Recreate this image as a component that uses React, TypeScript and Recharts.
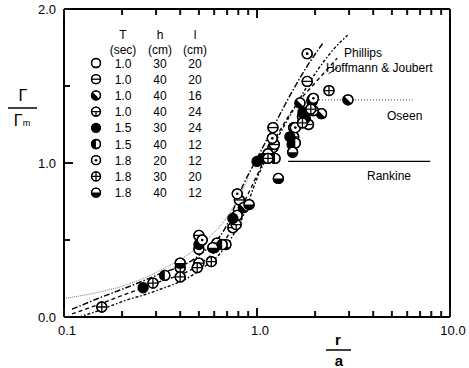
import React from "react";
import {
  ComposedChart,
  Line,
  Scatter,
  XAxis,
  YAxis,
  ReferenceLine,
} from "recharts";

// r/a ticks and Γ/Γm ticks
const xTicks = [0.1, 0.2, 0.3, 0.4, 0.5, 0.6, 0.7, 0.8, 0.9, 1, 2, 3, 4, 5, 6, 7, 8, 9, 10];
const xMajor: Record<string, string> = { "0.1": "0.1", "1": "1.0", "10": "10.0" };
const yTicks = [0, 0.5, 1, 1.5, 2];
const yMajor: Record<string, string> = { "0": "0.0", "1": "1.0", "2": "2.0" };

// theory curves (r, value)
const lineAR = [0.11, 0.15, 0.2, 0.3, 0.5, 0.7, 0.85, 1.0, 1.2, 1.5, 1.8, 2.2];
const lineAV = [0.05, 0.12, 0.18, 0.27, 0.4, 0.6, 0.86, 1.03, 1.22, 1.45, 1.62, 1.78];
const lineBR = [0.11, 0.15, 0.2, 0.3, 0.5, 0.7, 0.9, 1.0, 1.3, 1.6, 2.0, 2.6];
const lineBV = [0.02, 0.08, 0.14, 0.22, 0.34, 0.52, 0.8, 0.92, 1.2, 1.38, 1.52, 1.68];
const lineCR = [0.12, 0.15, 0.2, 0.3, 0.5, 0.7, 0.85, 1.0, 1.3, 1.6, 2.0, 2.5, 2.95];
const lineCV = [0.0, 0.04, 0.1, 0.17, 0.3, 0.47, 0.66, 0.9, 1.18, 1.38, 1.58, 1.74, 1.83];
const lineDR = [0.1, 0.15, 0.2, 0.3, 0.5, 0.7, 0.9];
const lineDV = [0.12, 0.16, 0.2, 0.29, 0.46, 0.65, 0.9];
const oseenR = [1.95, 6.4];
const oseenV = [1.41, 1.41];
const rankineR = [1.45, 7.9];
const rankineV = [1.01, 1.01];

// legend rows
const legendT = ["1.0", "1.0", "1.0", "1.0", "1.5", "1.5", "1.8", "1.8", "1.8"];
const legendH = ["30", "40", "40", "40", "30", "40", "20", "30", "40"];
const legendL = ["20", "20", "16", "24", "24", "12", "12", "20", "12"];
const kinds = ["open", "minus", "diag", "minusVert", "filled", "leftHalf", "dot", "plus", "bottomHalf"];

// measurements per run: [r, value]
const runOpen = [[0.5, 0.44], [0.79, 0.66], [1.21, 1.1], [1.55, 1.23], [0.6, 0.45]];
const runMinus = [[0.5, 0.53], [0.62, 0.48], [0.5, 0.35], [0.81, 0.76], [0.75, 0.58], [1.21, 1.23], [1.23, 1.12], [1.82, 1.53], [1.93, 1.4], [1.72, 1.3], [1.85, 1.25]];
const runDiag = [[2.96, 1.41], [0.85, 0.71], [1.67, 1.39], [2.16, 1.32], [0.69, 0.47]];
const runMinusVert = [[0.4, 0.32], [0.78, 0.6], [1.14, 1.06], [1.55, 1.17], [1.96, 1.34]];
const runFilled = [[0.257, 0.19], [0.5, 0.47], [0.75, 0.64], [1.0, 1.01], [1.07, 1.03], [1.48, 1.17], [1.73, 1.33], [1.78, 1.29], [1.52, 1.12]];
const runLeftHalf = [[0.333, 0.27], [0.66, 0.47], [1.24, 1.03], [1.93, 1.41], [1.58, 1.13]];
const runDot = [[0.79, 0.8], [1.2, 1.16], [1.58, 1.23], [1.82, 1.71], [1.96, 1.42], [0.52, 0.5]];
const runPlus = [[0.157, 0.065], [0.289, 0.22], [0.4, 0.26], [0.58, 0.36], [0.49, 0.32], [1.14, 1.03], [2.36, 1.47], [1.72, 1.26], [1.9, 1.35]];
const runBottomHalf = [[0.4, 0.35], [1.29, 0.9], [1.53, 1.07], [0.91, 0.73], [0.59, 0.45]];

const runs = [runOpen, runMinus, runDiag, runMinusVert, runFilled, runLeftHalf, runDot, runPlus, runBottomHalf];

const zip = (rs: number[], vs: number[]) => rs.map((r, i) => ({ r, v: vs[i] }));
const FONT = "'Liberation Sans', Arial, sans-serif";
const INK = "#111111";

function Marker({ kind, cx, cy, r = 5 }: { kind: string; cx: number; cy: number; r?: number }) {
  const k = r * Math.SQRT1_2;
  const sw = 1.3;
  let inner: React.ReactNode = null;
  if (kind === "filled") {
    return <circle cx={cx} cy={cy} r={r} fill="#000" stroke="#000" strokeWidth={sw} />;
  }
  if (kind === "minus") inner = <path d={`M${cx - r},${cy}H${cx + r}`} stroke="#000" strokeWidth={sw} />;
  if (kind === "plus") inner = <path d={`M${cx - r},${cy}H${cx + r}M${cx},${cy - r}V${cy + r}`} stroke="#000" strokeWidth={sw} />;
  if (kind === "minusVert") inner = <path d={`M${cx - r},${cy}H${cx + r}M${cx},${cy}V${cy + r}`} stroke="#000" strokeWidth={sw} />;
  if (kind === "dot") inner = <circle cx={cx} cy={cy} r={1.3} fill="#000" />;
  if (kind === "diag")
    inner = <path d={`M${cx - k},${cy - k} A${r},${r} 0 0 0 ${cx + k},${cy + k} Z`} fill="#000" />;
  if (kind === "leftHalf") inner = <path d={`M${cx},${cy - r} A${r},${r} 0 0 0 ${cx},${cy + r} Z`} fill="#000" />;
  if (kind === "bottomHalf") inner = <path d={`M${cx - r},${cy} A${r},${r} 0 0 0 ${cx + r},${cy} Z`} fill="#000" />;
  return (
    <g>
      <circle cx={cx} cy={cy} r={r} fill="#fff" stroke="#000" strokeWidth={sw} />
      {inner}
      <circle cx={cx} cy={cy} r={r} fill="none" stroke="#000" strokeWidth={sw} />
    </g>
  );
}

const isMajorX = (v: number) => Math.abs(Math.log10(v) - Math.round(Math.log10(v))) < 1e-6;

// tick marks point into the plot; major ones are longer
function XTick(props: any) {
  const { x, y, payload, side } = props;
  const top = side === "top";
  const v = payload.value;
  const major = isMajorX(v);
  const len = major ? 9 : 6;
  const y2 = top ? y + len : y - len;
  return (
    <g>
      <rect x={x - 1} y={Math.min(y, y2)} width={2} height={len} fill={INK} />
      {!top && major && (
        <text x={x + 3} y={y + 18} textAnchor="middle" fontSize={13} fontFamily={FONT} fill="#000">
          {xMajor[String(v)]}
        </text>
      )}
    </g>
  );
}

function YTick(props: any) {
  const { x, y, payload, side } = props;
  const right = side === "right";
  const v = payload.value;
  const len = v === 1 ? 9 : 6;
  const x2 = right ? x - len : x + len;
  return (
    <g>
      <rect x={Math.min(x, x2)} y={y - 1} width={len} height={2} fill={INK} />
      {!right && yMajor[String(v)] && (
        <text x={x - 8} y={y + 5} textAnchor="end" fontSize={13} fontFamily={FONT} fill="#000">
          {yMajor[String(v)]}
        </text>
      )}
    </g>
  );
}

export default function App() {
  const axisLine = { stroke: "#000", strokeWidth: 2 };
  const rowY = (i: number) => 63 + i * 16.2;
  return (
    <div style={{ position: "absolute", left: 0, top: 0, width: 469, height: 368, background: "#fff" }}>
      <ComposedChart width={469} height={368} margin={{ top: 8, right: 9, bottom: 21, left: 24 }}>
        <XAxis
          xAxisId={0}
          dataKey="r"
          type="number"
          scale="log"
          domain={[0.1, 10]}
          ticks={xTicks}
          allowDataOverflow
          height={30}
          tickSize={0}
          tickMargin={0}
          tickLine={false}
          axisLine={axisLine}
          tick={<XTick side="bottom" />}
          interval={0}
        />
        <XAxis
          xAxisId="top"
          orientation="top"
          dataKey="r"
          type="number"
          scale="log"
          domain={[0.1, 10]}
          ticks={xTicks}
          allowDataOverflow
          height={1}
          tickSize={0}
          tickMargin={0}
          tickLine={false}
          axisLine={axisLine}
          tick={<XTick side="top" />}
          interval={0}
        />
        <YAxis
          yAxisId={0}
          type="number"
          domain={[0, 2]}
          ticks={yTicks}
          width={40}
          tickSize={0}
          tickMargin={0}
          tickLine={false}
          axisLine={axisLine}
          tick={<YTick side="left" />}
          interval={0}
        />
        <YAxis
          yAxisId="right"
          orientation="right"
          type="number"
          domain={[0, 2]}
          ticks={yTicks}
          width={10}
          tickSize={0}
          tickMargin={0}
          tickLine={false}
          axisLine={axisLine}
          tick={<YTick side="right" />}
          interval={0}
        />
        <Line data={zip(lineDR, lineDV)} dataKey="v" stroke="#555" strokeWidth={0.8} strokeDasharray="1 1" dot={false} isAnimationActive={false} type="monotone" />
        <Line data={zip(lineAR, lineAV)} dataKey="v" stroke="#000" strokeWidth={1.4} strokeDasharray="6 2 1.5 2" dot={false} isAnimationActive={false} type="monotone" />
        <Line data={zip(lineBR, lineBV)} dataKey="v" stroke="#000" strokeWidth={1.3} strokeDasharray="4 3" dot={false} isAnimationActive={false} type="monotone" />
        <Line data={zip(lineCR, lineCV)} dataKey="v" stroke="#000" strokeWidth={1.4} strokeDasharray="3 2 1.5 2" dot={false} isAnimationActive={false} type="monotone" />
        <Line data={zip(oseenR, oseenV)} dataKey="v" stroke="#333" strokeWidth={1} strokeDasharray="1 2" dot={false} isAnimationActive={false} />
        <Line data={zip(rankineR, rankineV)} dataKey="v" stroke="#000" strokeWidth={1.3} dot={false} isAnimationActive={false} />
        <ReferenceLine
          segment={[{ x: 2.62, y: 1.62 }, { x: 2.35, y: 1.58 }]}
          stroke="#000"
          strokeWidth={1}
        />
        {runs.map((pts, i) => (
          <Scatter
            key={kinds[i]}
            data={pts.map(([r, v]) => ({ r, v }))}
            dataKey="v"
            isAnimationActive={false}
            shape={(p: any) => <Marker kind={kinds[i]} cx={p.cx} cy={p.cy} />}
          />
        ))}
      </ComposedChart>
      <svg width={469} height={368} style={{ position: "absolute", left: 0, top: 0, pointerEvents: "none" }}>
        <g fontFamily={FONT} fontSize={12} fill="#000">
          <text x={123} y={39} textAnchor="middle">T</text>
          <text x={160} y={39} textAnchor="middle">h</text>
          <text x={195} y={39} textAnchor="middle">l</text>
          <text x={123} y={54} textAnchor="middle">(sec)</text>
          <text x={160} y={54} textAnchor="middle">(cm)</text>
          <text x={195} y={54} textAnchor="middle">(cm)</text>
          {kinds.map((k, i) => (
            <g key={k}>
              <Marker kind={k} cx={96} cy={rowY(i)} r={4.5} />
              <text x={123} y={rowY(i) + 4.5} textAnchor="middle">{legendT[i]}</text>
              <text x={160} y={rowY(i) + 4.5} textAnchor="middle">{legendH[i]}</text>
              <text x={195} y={rowY(i) + 4.5} textAnchor="middle">{legendL[i]}</text>
            </g>
          ))}
          <text x={344} y={57}>Phillips</text>
          <text x={326} y={72}>Hoffmann &amp; Joubert</text>
          <text x={387} y={120}>Oseen</text>
          <text x={367} y={180}>Rankine</text>
        </g>
        <g fontFamily={FONT} fill="#000">
          <text x={23} y={101} fontSize={16} textAnchor="middle">Γ</text>
          <path d="M8,108H37" stroke="#000" strokeWidth={1.5} />
          <text x={22} y={126} fontSize={16} textAnchor="middle">
            Γ<tspan fontSize={9}>m</tspan>
          </text>
          <text x={338} y={345} fontSize={15} textAnchor="middle" fontWeight="bold">r</text>
          <path d="M326,350H351" stroke="#000" strokeWidth={1.5} />
          <text x={339} y={366} fontSize={15} textAnchor="middle" fontWeight="bold">a</text>
        </g>
      </svg>
    </div>
  );
}
